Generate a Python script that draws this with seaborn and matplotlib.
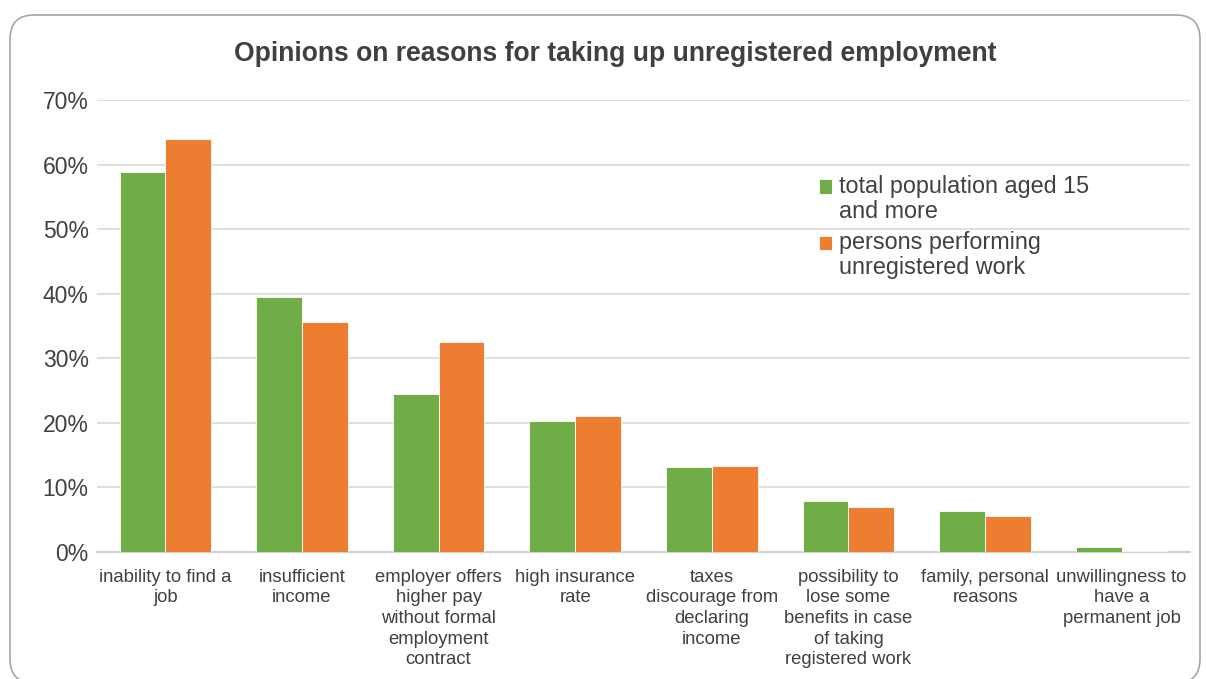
import numpy as np
import pandas as pd
import matplotlib
matplotlib.use("Agg")
import matplotlib.pyplot as plt
import seaborn as sns
from matplotlib import font_manager
from matplotlib.patches import FancyBboxPatch
from matplotlib.transforms import IdentityTransform
from matplotlib.ticker import FuncFormatter

# data
reasons = [
    "inability to find a\njob",
    "insufficient\nincome",
    "employer offers\nhigher pay\nwithout formal\nemployment\ncontract",
    "high insurance\nrate",
    "taxes\ndiscourage from\ndeclaring\nincome",
    "possibility to\nlose some\nbenefits in case\nof taking\nregistered work",
    "family, personal\nreasons",
    "unwillingness to\nhave a\npermanent job",
]
total_pop = [58.9, 39.5, 24.5, 20.3, 13.2, 7.9, 6.3, 0.8]
unregistered = [64.0, 35.6, 32.5, 21.1, 13.3, 6.9, 5.5, 0.2]
series = ["total population aged 15\nand more", "persons performing\nunregistered work"]
colors = ["#70AD47", "#ED7D31"]

df = pd.DataFrame({
    "reason": reasons * 2,
    "value": total_pop + unregistered,
    "series": [series[0]] * len(reasons) + [series[1]] * len(reasons),
})

sns.set_style("white")
plt.rcParams["font.family"] = ["Liberation Sans", "DejaVu Sans"]
text_col = "#404040"

# bold title font: pick the regular-width Liberation Sans Bold file explicitly
bold_font = None
for f in font_manager.findSystemFonts():
    if f.endswith("LiberationSans-Bold.ttf"):
        bold_font = font_manager.FontProperties(fname=f, size=19.1)
        break
if bold_font is None:
    bold_font = font_manager.FontProperties(family="Liberation Sans", weight="bold", size=19.1)

fig = plt.figure(figsize=(12.06, 6.79), dpi=100)
W, H = 1206, 679
ax = fig.add_axes([97 / W, (H - 552) / H, (1190 - 97) / W, (552 - 100) / H])

# rounded chart frame (pixel coordinates), bottom edge just below the image
frame = FancyBboxPatch((10, -4), 1190, 668,
                       boxstyle="round,pad=0,rounding_size=24",
                       transform=IdentityTransform(), facecolor="white",
                       edgecolor="#A6A6A6", linewidth=1.2, zorder=-10)
fig.patches.append(frame)

sns.barplot(data=df, x="reason", y="value", hue="series", palette=colors,
            saturation=1, width=0.67, ax=ax, edgecolor="white", linewidth=0.6,
            zorder=3)

ax.set_ylim(0, 70)
ax.set_xlim(-0.5, len(reasons) - 0.5)
ax.set_yticks(np.arange(0, 71, 10))
ax.yaxis.set_major_formatter(FuncFormatter(lambda v, p: f"{v:.0f}%"))
ax.grid(axis="y", color="#D9D9D9", linewidth=1.2, zorder=0)
ax.set_axisbelow(True)
for s in ["top", "right", "left"]:
    ax.spines[s].set_visible(False)
ax.spines["bottom"].set_color("#D0D0D0")
ax.spines["bottom"].set_linewidth(1.5)
ax.tick_params(axis="both", length=0, colors=text_col)
ax.tick_params(axis="y", labelsize=16.5, pad=6)
ax.tick_params(axis="x", labelsize=13.3, pad=12)
for lbl in ax.get_xticklabels():
    lbl.set_linespacing(1.28)
ax.set_xlabel("")
ax.set_ylabel("")
ax.set_facecolor("none")

fig.text(615 / W, 1 - 54 / H, "Opinions on reasons for taking up unregistered employment",
         ha="center", va="center", fontproperties=bold_font, color=text_col)

leg = ax.legend(loc="upper left", bbox_to_anchor=(0.652, 0.855), frameon=False,
                fontsize=16.8, handlelength=0.55, handleheight=0.55,
                handletextpad=0.3, labelspacing=0.35, borderaxespad=0,
                labelcolor=text_col)
for t in leg.get_texts():
    t.set_linespacing(1.12)
# Excel puts the swatch next to the first line of a wrapped entry
for h in leg.legend_handles:
    h.set_y(h.get_y() + 9.5)

fig.savefig("out.png", dpi=100)
